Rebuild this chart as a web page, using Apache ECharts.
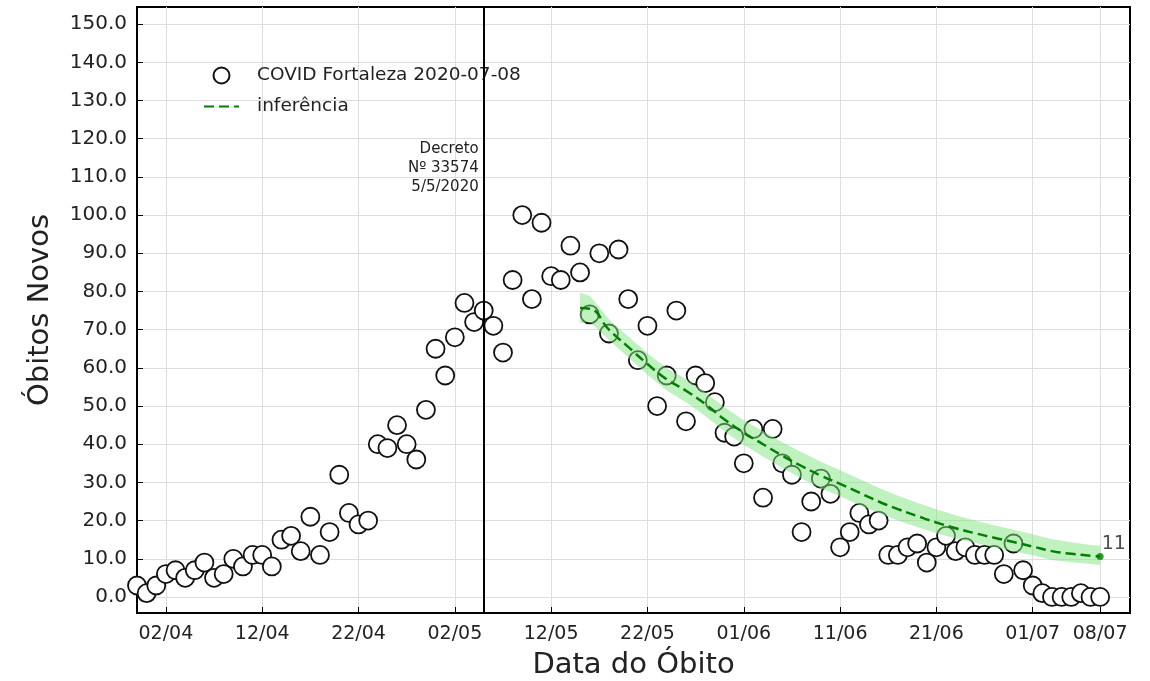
<!DOCTYPE html>
<html><head><meta charset="utf-8">
<script src="https://cdn.jsdelivr.net/npm/echarts@6/dist/echarts.min.js"></script>
<style>html,body{margin:0;padding:0;background:#fff}#c{width:1150px;height:681px}</style>
</head><body><div id="c"></div>
<script>
// dia 0 = 30/03/2020; um ponto por dia
const obitos = [3,1,3,6,7,5,7,9,5,6,10,8,11,11,8,15,16,12,21,11,17,32,22,19,20,40,39,45,40,36,49,65,58,68,77,72,75,71,64,83,100,78,98,84,83,92,85,74,90,69,91,78,62,71,50,58,75,46,58,56,51,43,42,35,44,26,44,35,32,17,25,31,27,13,17,22,19,20,11,11,13,14,9,13,16,12,13,11,11,11,6,14,7,3,1,0,0,0,1,0,0];
const inferenciaDia = [46,47,49,51,53,55,57,59,61,63,65,67,69,71,73,75,77,79,81,83,85,87,89,91,93,95,97,99,100];
const inferenciaValor = [75.7,75.5,70,65.5,61,57,54,50.5,46.5,43,40,37,34.3,31.8,29.6,27.3,25,23,21.2,19.5,18,16.7,15.5,14.4,13.2,12,11.3,10.8,10.6];
const inferenciaSup = [79.7,78.9,72.7,68.2,63.8,59.9,57,53.6,49.7,46.3,43.4,40.5,37.9,35.4,33.2,30.9,28.6,26.5,24.7,23,21.4,20,18.8,17.6,16.4,15.1,14.3,13.6,13.4];
const inferenciaInf = [71.7,72.1,67.3,62.8,58.2,54.1,51,47.4,43.4,39.8,36.8,33.8,31,28.5,26.4,24.1,22,20,18.3,16.7,15.3,14.1,13,12,10.9,9.7,9.1,8.6,8.4];
const tickDia = [3,13,23,33,43,53,63,73,83,93,100];
const tickRotulo = ['02/04','12/04','22/04','02/05','12/05','22/05','01/06','11/06','21/06','01/07','08/07'];
const yTicks = [0,10,20,30,40,50,60,70,80,90,100,110,120,130,140,150];
const decretoDia = 36;
const decretoTexto = ['Decreto','Nº 33574','5/5/2020'];
const nomeSerie = 'COVID Fortaleza 2020-07-08';
const nomeInferencia = 'inferência';

const FONT = 'DejaVu Sans';
const chart = echarts.init(document.getElementById('c'), null, {renderer:'canvas'});
const pontos = obitos.map((v,i)=>[i,v]);
const curva = inferenciaDia.map((d,i)=>[d,inferenciaValor[i]]);
const last = curva[curva.length-1];

const option = {
  animation:false,
  backgroundColor:'#fff',
  textStyle:{fontFamily:FONT},
  grid:{left:137,right:20,top:7,bottom:68,outerBoundsMode:'none',containLabel:false,show:true,borderColor:'#000',borderWidth:2,backgroundColor:'transparent'},
  legend:{
    data:[nomeSerie, {name:nomeInferencia, itemStyle:{color:'rgba(0,0,0,0)',borderWidth:0,opacity:0}}],
    orient:'vertical', left:203, top:66, padding:0,
    itemWidth:35, itemHeight:16, itemGap:12,
    textStyle:{fontSize:18.5,color:'#222',fontFamily:FONT,padding:[0,0,0,13]}
  },
  xAxis:{
    type:'value', min:0, max:103.1,
    name:'Data do Óbito', nameLocation:'middle', nameGap:38,
    nameTextStyle:{fontSize:29,color:'#222',fontFamily:FONT},
    axisLine:{onZero:false,lineStyle:{color:'#000',width:2}},
    axisTick:{inside:true,length:6,customValues:tickDia,lineStyle:{color:'#000',width:1}},
    axisLabel:{customValues:tickDia,formatter:v=>tickRotulo[tickDia.indexOf(v)],fontSize:19,color:'#222',margin:12,fontFamily:FONT},
    splitLine:{show:true,lineStyle:{color:'#dedede',width:1}}
  },
  yAxis:{
    type:'value', min:-4.2, max:154.5,
    name:'Óbitos Novos', nameLocation:'middle', nameGap:82,
    nameTextStyle:{fontSize:29,color:'#222',fontFamily:FONT},
    axisLine:{onZero:false,lineStyle:{color:'#000',width:2}},
    axisTick:{inside:true,length:6,customValues:yTicks,lineStyle:{color:'#000',width:1}},
    axisLabel:{customValues:yTicks,formatter:v=>v.toFixed(1),fontSize:20,color:'#222',margin:10,fontFamily:FONT},
    splitLine:{show:true,lineStyle:{color:'#dedede',width:1}}
  },
  series:[
    {type:'line', name:'decreto', data:[], z:1, silent:true,
     markLine:{symbol:['none','none'], silent:true, label:{show:false},
       lineStyle:{color:'#000',width:2,type:'solid'}, data:[{xAxis:decretoDia}]}},
    {type:'scatter', name:nomeSerie, data:pontos, z:2, symbol:'circle', symbolSize:18,
     itemStyle:{color:'#fff',borderColor:'#111',borderWidth:1.8,opacity:1}},
    {type:'custom', name:'banda', z:3, silent:true, data:[0],
     renderItem:(params,api)=>{
       const pts=[];
       for(let i=0;i<inferenciaDia.length;i++) pts.push(api.coord([inferenciaDia[i],inferenciaSup[i]]));
       for(let i=inferenciaDia.length-1;i>=0;i--) pts.push(api.coord([inferenciaDia[i],inferenciaInf[i]]));
       return {type:'polygon',shape:{points:pts},style:{fill:'rgba(130,230,130,0.5)',stroke:null}};
     }},
    {type:'line', name:nomeInferencia, data:curva, z:4, smooth:true, symbol:'none', showSymbol:false,
     lineStyle:{color:'#008000',width:2.5,type:[10,5]}, itemStyle:{color:'#008000'}},
    {type:'scatter', name:'fim', data:[last], z:5, symbol:'circle', symbolSize:7,
     itemStyle:{color:'#008000'},
     label:{show:true,formatter:p=>String(Math.round(p.value[1])),position:[5,-18],fontSize:19,color:'#222',fontFamily:FONT}}
  ]
};
chart.setOption(option);
const px = chart.convertToPixel({gridIndex:0},[decretoDia,120]);
chart.setOption({graphic:[{type:'text', x:px[0]-5, y:px[1]+1, z:10,
  style:{text:decretoTexto.join('\n'), align:'right', verticalAlign:'top', fontSize:15, lineHeight:19, fill:'#222', fontFamily:FONT}}]});
</script></body></html>
